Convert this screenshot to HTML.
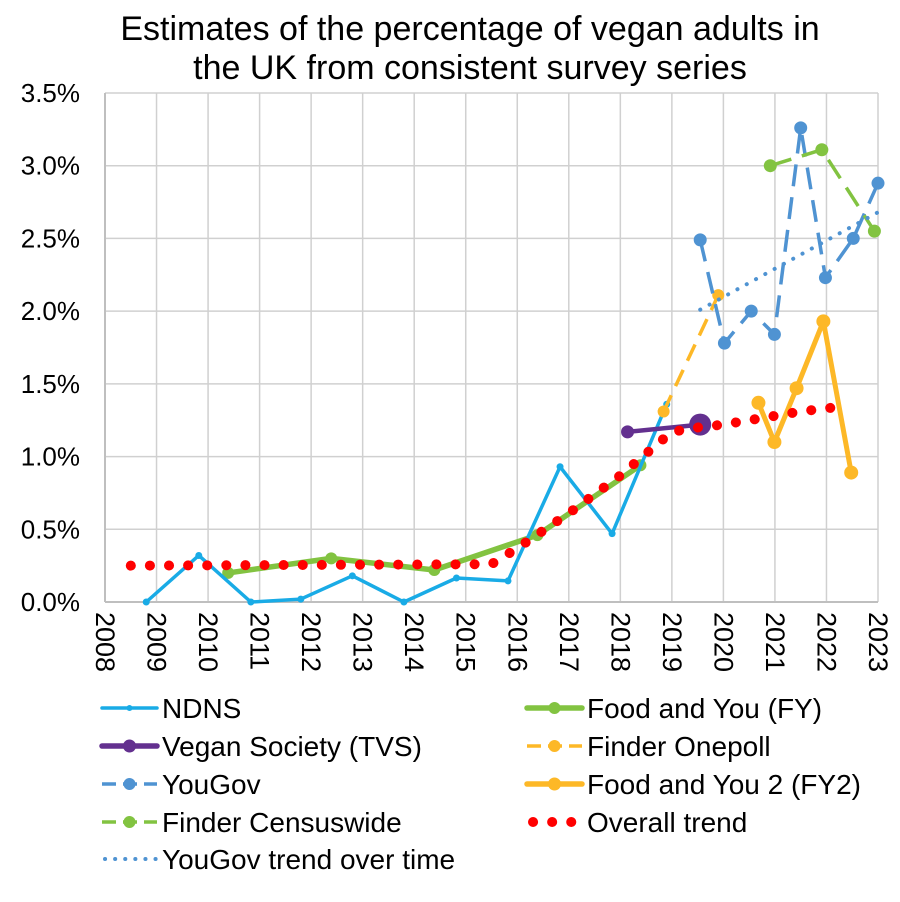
<!DOCTYPE html>
<html><head><meta charset="utf-8"><style>
html,body{margin:0;padding:0;background:#fff;}
svg{display:block;font-family:"Liberation Sans",Arial,sans-serif;}
</style></head><body>
<svg id="chart" width="900" height="902" viewBox="0 0 900 902" xmlns="http://www.w3.org/2000/svg">
<text x="470" y="40" text-anchor="middle" font-size="34" fill="#000">Estimates of the percentage of vegan adults in</text>
<text x="470" y="79" text-anchor="middle" font-size="34" fill="#000">the UK from consistent survey series</text>
<g id="grid"></g><g id="axes"></g><g id="series"></g><g id="legend"></g>
</svg>
<script>
const yTicks=[0,0.5,1,1.5,2,2.5,3,3.5];
const yTickLabels=["0.0%","0.5%","1.0%","1.5%","2.0%","2.5%","3.0%","3.5%"];
const xTicks=[2008,2009,2010,2011,2012,2013,2014,2015,2016,2017,2018,2019,2020,2021,2022,2023];
const ndnsX=[2008.8,2009.82,2010.83,2011.8,2012.8,2013.8,2014.82,2015.82,2016.83,2017.84,2018.9];
const ndnsY=[0,0.32,0,0.02,0.18,0,0.165,0.145,0.93,0.47,1.36];
const fyX=[2010.39,2012.39,2014.39,2016.39,2018.39];
const fyY=[0.2,0.3,0.22,0.46,0.94];
const tvsX=[2018.14,2019.55];
const tvsY=[1.17,1.22];
const onepollX=[2018.84,2019.9];
const onepollY=[1.31,2.11];
const yougovX=[2019.55,2020.02,2020.54,2020.99,2021.5,2021.98,2022.52,2023.0];
const yougovY=[2.49,1.78,2.0,1.84,3.26,2.23,2.5,2.88];
const censusX=[2020.91,2021.91,2022.93];
const censusY=[3.0,3.11,2.55];
const fy2X=[2020.68,2020.99,2021.42,2021.94,2022.48];
const fy2Y=[1.37,1.1,1.47,1.93,0.89];
const trendX=[2008.5,2015.5,2016,2016.5,2017,2017.5,2018,2018.5,2019,2019.5,2020,2020.5,2021,2021.5,2022.2];
const trendY=[0.25,0.26,0.37,0.49,0.61,0.74,0.87,1.02,1.17,1.2,1.22,1.25,1.28,1.31,1.34];
const ygTrendX=[2019.55,2023.0];
const ygTrendY=[2.01,2.68];

const NS="http://www.w3.org/2000/svg";
const X0=105,X1=878,Y0=602,Y1=93;
function xs(v){return X0+(v-2008)/15*(X1-X0);}
function ys(v){return Y0-(v/3.5)*(Y0-Y1);}
function mk(tag,attrs,parent){const e=document.createElementNS(NS,tag);for(const k in attrs)e.setAttribute(k,attrs[k]);parent.appendChild(e);return e;}
const grid=document.getElementById('grid'),axes=document.getElementById('axes'),ser=document.getElementById('series'),leg=document.getElementById('legend');
yTicks.forEach((t,i)=>{
  const l=mk('line',{x1:X0,x2:X1,y1:ys(t),y2:ys(t),stroke:'#d0d0d0','stroke-width':1.5},grid);
  
  
  const tx=mk('text',{x:80,y:ys(t)+9,'text-anchor':'end','font-size':26,fill:'#000'},axes);
  tx.textContent=yTickLabels[i];
  
  
});
xTicks.forEach(t=>{
  const l=mk('line',{x1:xs(t),x2:xs(t),y1:Y1,y2:Y0,stroke:'#d0d0d0','stroke-width':1.5},grid);
  
  
  const tx=mk('text',{x:0,y:0,'font-size':27,fill:'#000',transform:`translate(${xs(t)-9},612) rotate(90)`},axes);
  tx.textContent=String(t);
  
  
});
const ax=mk('line',{x1:X0,x2:X1,y1:Y0,y2:Y0,stroke:'#bfbfbf','stroke-width':2},axes);


const ay=mk('line',{x1:X0,x2:X0,y1:Y1,y2:Y0,stroke:'#bfbfbf','stroke-width':2},axes);



function drawSeries(name,X,Y,color,w,dash,r,cap){
  const g=mk('g',{},ser);
  
  
  const pts=X.map((x,i)=>xs(x)+','+ys(Y[i])).join(' ');
  const pl=mk('polyline',{points:pts,fill:'none',stroke:color,'stroke-width':w,'stroke-dasharray':dash||'none','stroke-linecap':cap||'butt','stroke-linejoin':'round'},g);
  
  
  if(r>0)X.forEach((x,i)=>{
    const c=mk('circle',{cx:xs(x),cy:ys(Y[i]),r:r,fill:color},g);
    
    
  });
}
drawSeries('fy',fyX,fyY,'#82C341',5.5,null,6,'round');
drawSeries('ndns',ndnsX,ndnsY,'#19ABE6',3.5,null,3.5);
drawSeries('tvs',tvsX,tvsY,'#63308F',4.5,null,6.5);
(function(){const c=mk('circle',{cx:xs(tvsX[1]),cy:ys(tvsY[1]),r:11,fill:'#63308F'},ser);

})();
drawSeries('finder-onepoll',onepollX,onepollY,'#FDB827',3.5,'18 10',6);
drawSeries('yougov',yougovX,yougovY,'#4F93D2',3.5,'22 11',6.5);
drawSeries('finder-censuswide',censusX,censusY,'#82C341',3.5,'22 11',6.5);
drawSeries('fy2',fy2X,fy2Y,'#FDB827',5,null,7);
drawSeries('yougov-trend',ygTrendX,ygTrendY,'#4F93D2',4,'0.1 10.5',0,'round');
drawSeries('overall-trend',trendX,trendY,'#FF0000',10,'0.1 19',0,'round');

const legItems=[
 ['NDNS','#19ABE6',3.5,null,3,'round',102,708],
 ['Food and You (FY)','#82C341',5.5,null,6,'round',527,708],
 ['Vegan Society (TVS)','#63308F',5.5,null,6.5,'round',102,746],
 ['Finder Onepoll','#FDB827',3.5,'14 7',6,'butt',527,746],
 ['YouGov','#4F93D2',3.5,'14 7',6,'butt',102,784],
 ['Food and You 2 (FY2)','#FDB827',5.5,null,6.5,'round',527,784],
 ['Finder Censuswide','#82C341',3.5,'14 7',6,'butt',102,822],
 ['Overall trend','#FF0000',10,'0.1 19',0,'round',527,822],
 ['YouGov trend over time','#4F93D2',4,'0.1 10',0,'round',102,859]
];
legItems.forEach(it=>{
  const [label,color,w,dash,r,cap,x,y]=it;
  const g=mk('g',{},leg);
  
  
  let x1=x,x2=x+55;
  if(label==='Overall trend'){x1=x+6;x2=x+50;}
  if(label==='YouGov trend over time'){x1=x+3;x2=x+56;}
  mk('line',{x1:x1,x2:x2,y1:y,y2:y,stroke:color,'stroke-width':w,'stroke-dasharray':dash||'none','stroke-linecap':cap},g);
  if(r>0)mk('circle',{cx:x+27.5,cy:y,r:r,fill:color},g);
  const t=mk('text',{x:x+60,y:y+10,'font-size':28,fill:'#000'},g);
  t.textContent=label;
});
</script>
</body></html>
